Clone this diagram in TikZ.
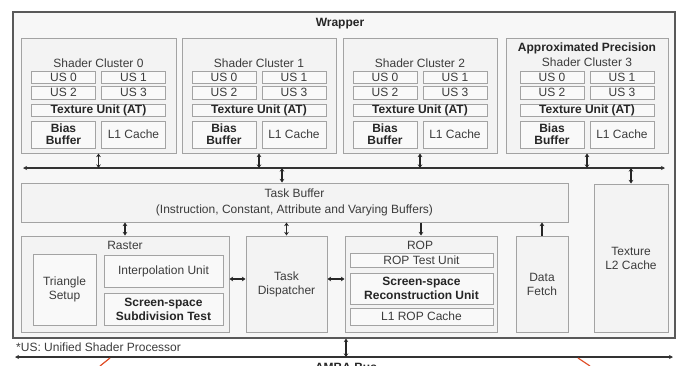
\documentclass[tikz,border=0pt]{standalone}
\usepackage{fontspec}
\setmainfont{Liberation Sans}
\usepackage{xcolor}
\usepackage{tikz}
\usetikzlibrary{positioning, arrows.meta, calc}
\definecolor{boxline}{HTML}{a3a3a3}
\definecolor{boxfill}{HTML}{f3f3f3}
\definecolor{unitfill}{HTML}{f9f9f9}
\definecolor{txtgray}{HTML}{3c3c3c}
\definecolor{busred}{HTML}{e0502a}

\begin{document}
\begin{tikzpicture}[x=1pt, y=-1pt,
 font=\fontsize{12}{14}\selectfont, text=txtgray,
 blk/.style={draw=boxline, line width=1pt, fill=boxfill, inner sep=0pt, align=center},
 unit/.style={draw=boxline, line width=0.8pt, fill=unitfill, inner sep=0pt, align=center},
 bld/.style={font=\fontsize{12}{14}\selectfont\bfseries, text=black!85},
 lbl/.style={inner sep=0pt},
 dbl/.style={{Stealth[length=3.5pt,width=4.5pt]}-{Stealth[length=3.5pt,width=4.5pt]}, line width=1.3pt, black!85},
 one/.style={-{Stealth[length=3.5pt,width=4.5pt]}, line width=1.3pt, black!85},
 bus/.style={{Stealth[length=4pt,width=4pt]}-{Stealth[length=4pt,width=4pt]}, line width=1.6pt, black!80}]
\useasboundingbox (0,0) rectangle (681,365);

\node[draw=black!65, line width=1.2pt, fill=white!97!black, minimum width=662pt, minimum height=326pt](wrap) at (344,175) {};
\node[lbl, bld](wraptitle) at (340,24) {Wrapper};

% four shader clusters
\foreach \i/\cx/\w/\ty in {0/98.5/155/63, 1/259/154/63, 2/420/154/63, 3/587/162/62.5}{
  \node[blk, minimum width=\w pt, minimum height=115pt](cl\i) at (\cx,95.5) {};
  \node[lbl](cltitle\i) at (\cx,\ty) {Shader Cluster \i};
  \node[unit, minimum width=64pt, minimum height=12pt](us0-\i) at (\cx-35,77) {US 0};
  \node[unit, minimum width=64pt, minimum height=12pt](us1-\i) at (\cx+35,77) {US 1};
  \node[unit, minimum width=64pt, minimum height=13pt](us2-\i) at (\cx-35,92.5) {US 2};
  \node[unit, minimum width=64pt, minimum height=13pt](us3-\i) at (\cx+35,92.5) {US 3};
  \node[unit, bld, minimum width=134pt, minimum height=12pt](tex\i) at (\cx,110) {Texture Unit (AT)};
  \node[unit, bld, minimum width=64pt, minimum height=27pt](bias\i) at (\cx-35,134.5) {Bias\\[-2pt]Buffer};
  \node[unit, minimum width=64pt, minimum height=27pt](lone\i) at (\cx+35,134.5) {L1 Cache};
}
\node[lbl, bld](approx) at (587,48) {Approximated Precision};

\coordinate (busL) at (23,168);
\coordinate (busR) at (665,168);
\draw[bus] (busL) -- (busR);
\foreach \i in {0,...,3}
  \draw[dbl] (cl\i.south) -- (cl\i.south |- busL);

\node[blk, minimum width=547pt, minimum height=39pt, font=\fontsize{12}{16}\selectfont](tbuf) at (294.5,202.5)
  {Task Buffer\\(Instruction, Constant, Attribute and Varying Buffers)};
\node[blk, minimum width=74pt, minimum height=148pt](ltwo) at (631,258) {Texture\\L2 Cache};
\coordinate (tap) at (282,168);
\draw[dbl] (tap) -- (tap |- tbuf.north);
\draw[dbl] (ltwo.north |- busL) -- (ltwo.north);

\node[blk, minimum width=208pt, minimum height=96pt](raster) at (125,284) {};
\node[lbl](rastertitle) at (125,245) {Raster};
\node[unit, minimum width=63pt, minimum height=71pt](tri) at (64.5,289.5) {Triangle\\Setup};
\node[unit, minimum width=119pt, minimum height=32pt](interp) at (163.5,271) {Interpolation Unit};
\node[unit, bld, minimum width=119pt, minimum height=32pt](subdiv) at (163.5,309) {Screen-space\\Subdivision Test};

\node[blk, minimum width=81pt, minimum height=96pt](disp) at (286.5,284) {Task\\Dispatcher};

\node[blk, minimum width=152pt, minimum height=96pt](rop) at (421,284) {};
\node[lbl](roptitle) at (420,245) {ROP};
\node[unit, minimum width=143pt, minimum height=14pt](roptest) at (421.5,260) {ROP Test Unit};
\node[unit, bld, minimum width=143pt, minimum height=31pt](recon) at (421.5,288.5) {Screen-space\\Reconstruction Unit};
\node[unit, minimum width=143pt, minimum height=17pt](ropcache) at (421.5,316.5) {L1 ROP Cache};

\node[blk, minimum width=52pt, minimum height=96pt](fetch) at (542,284) {Data\\Fetch};

\coordinate (mid) at (0,279);
\draw[dbl] (raster.north |- tbuf.south) -- (raster.north);
\draw[dbl] (disp.north |- tbuf.south) -- (disp.north);
\draw[one] (rop.north |- tbuf.south) -- (rop.north);
\draw[one] (fetch.north) -- (fetch.north |- tbuf.south);
\draw[dbl] (raster.east |- mid) -- (disp.west |- mid);
\draw[dbl] (disp.east |- mid) -- (rop.west |- mid);

\node[lbl, anchor=west](note) at (16,347) {*US: Unified Shader Processor};

\coordinate (ambaL) at (15,357);
\coordinate (ambaR) at (673,357);
\coordinate (ambatap) at (346,357);
\draw[bus] (ambaL) -- (ambaR);
\draw[dbl] (ambatap) -- (ambatap |- wrap.south);
\node[lbl, bld, anchor=base](amba) at (346,371) {AMBA Bus};
\draw[busred, line width=1.2pt] (110,358) -- (100,366);
\draw[busred, line width=1.2pt] (578,358) -- (590,366);
\end{tikzpicture}
\end{document}
